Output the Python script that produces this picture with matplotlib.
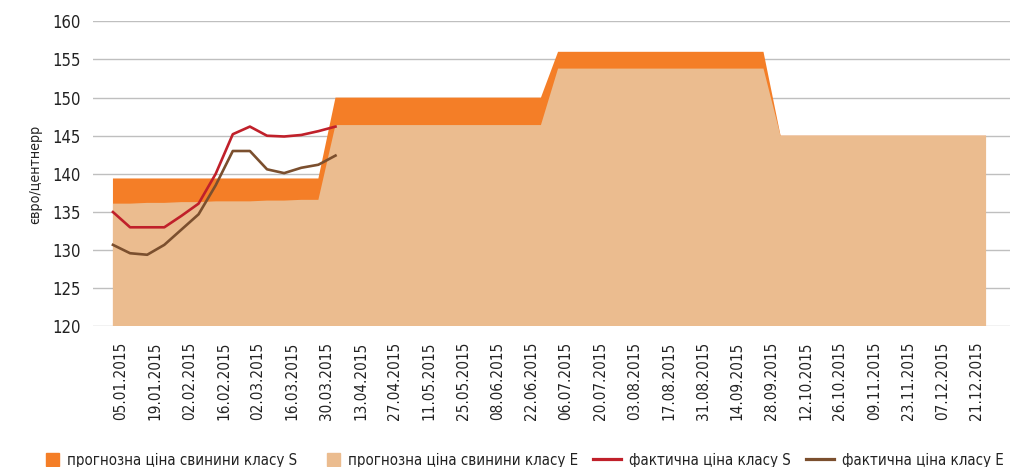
import pandas as pd
import matplotlib
matplotlib.use("Agg")
import matplotlib.pyplot as plt
import matplotlib.transforms as mtransforms
from matplotlib.patches import Patch, Rectangle
from matplotlib.lines import Line2D
from matplotlib.legend_handler import HandlerPatch

plt.rcParams['font.family'] = ['DejaVu Sans']
plt.rcParams['font.stretch'] = 'condensed'

# тижні 2015 року
weeks = pd.date_range('2015-01-05', periods=52, freq='7D')
week_labels = [d.strftime('%d.%m.%Y') for d in weeks]

# прогноз (євро/центнер), по кварталах
forecast_s = ([139.4] * 13 + [150.0] * 13 + [156.0] * 13 + [145.0] * 13)
forecast_e = ([136.1, 136.1, 136.2, 136.2, 136.3, 136.3, 136.4, 136.4, 136.4,
               136.5, 136.5, 136.6, 136.6]
              + [146.4] * 13 + [153.8] * 13 + [145.0] * 13)

# фактичні ціни, перші 14 тижнів
actual_s = [135.0, 133.0, 133.0, 133.0, 134.5, 136.1, 140.0, 145.2, 146.2,
            145.0, 144.9, 145.1, 145.6, 146.2]
actual_e = [130.7, 129.6, 129.4, 130.7, 132.7, 134.7, 138.5, 143.0, 143.0,
            140.6, 140.1, 140.8, 141.2, 142.4]

c_s = '#F47E27'
c_e = '#EBBC8F'
c_red = '#C0202A'
c_brown = '#7B4F2E'

fig = plt.figure(figsize=(10.1, 4.67), dpi=100)
ax = fig.add_axes([0.092, 0.3009, 0.908, 0.6535])

x = list(range(len(weeks)))
ax.fill_between(x, 0, forecast_s, color=c_s, linewidth=0, zorder=2)
ax.fill_between(x, 0, forecast_e, color=c_e, linewidth=0, zorder=3)
ax.plot(range(len(actual_s)), actual_s, color=c_red, linewidth=1.9, zorder=4)
ax.plot(range(len(actual_e)), actual_e, color=c_brown, linewidth=1.9, zorder=4)

ax.set_ylim(120, 160)
ax.set_yticks(range(120, 161, 5))
ax.set_xlim(-1.17, 52.4)
ax.set_xticks(x[:51:2])
ax.set_xticklabels(week_labels[:51:2], rotation=90, fontsize=11)
ax.tick_params(axis='y', labelsize=12)
ax.tick_params(axis='both', length=0, colors='#222222')
ax.tick_params(axis='x', pad=11)
ax.tick_params(axis='y', pad=9)

# підписи в Excel трохи зсунуті праворуч
shift = mtransforms.ScaledTranslation(8 / 100, 0, fig.dpi_scale_trans)
for lbl in ax.get_xticklabels():
    lbl.set_transform(lbl.get_transform() + shift)

ax.grid(axis='y', color='#BFBFBF', linewidth=1.0, zorder=1)
ax.set_axisbelow(True)
for sp in ax.spines.values():
    sp.set_visible(False)

ax.set_ylabel('євро/центнерр', fontsize=10.2, color='#222222', labelpad=7)


# квадратик біля тексту, як у легенді Excel
def square(legend, orig_handle, xdescent, ydescent, width, height, fontsize):
    return Rectangle((width - height - xdescent, -ydescent), height, height)


handles = [
    Patch(color=c_s, label='прогнозна ціна свинини класу S'),
    Patch(color=c_e, label='прогнозна ціна свинини класу E'),
    Line2D([], [], color=c_red, linewidth=2.3, label='фактична ціна класу S'),
    Line2D([], [], color=c_brown, linewidth=2.3, label='фактична ціна класу E'),
]
fig.legend(handles=handles, loc='center', bbox_to_anchor=(0.512, 0.015),
           ncol=4, frameon=False, fontsize=10.8, handlelength=1.9,
           handleheight=0.95, handletextpad=0.5, columnspacing=1.0,
           labelcolor='#222222',
           handler_map={Patch: HandlerPatch(patch_func=square)})

fig.savefig('out.png', dpi=100)
